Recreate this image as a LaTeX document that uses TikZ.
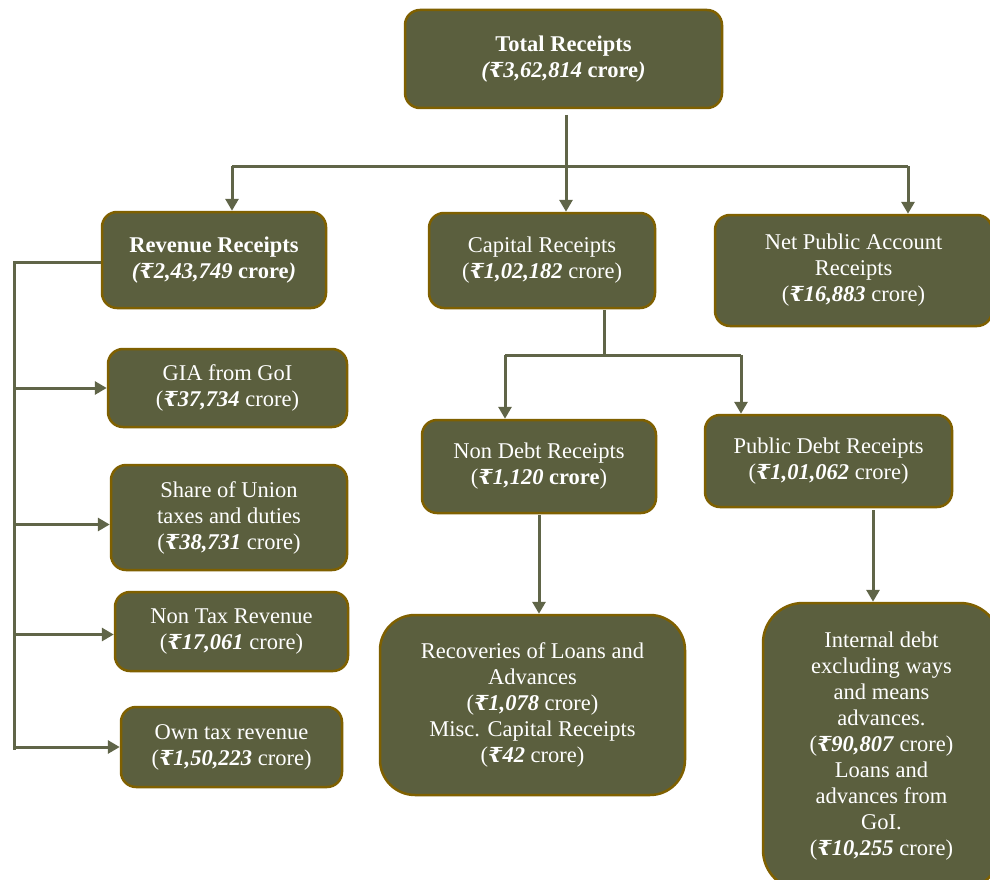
\documentclass[tikz,border=0pt]{standalone}
\usepackage{fontspec}
\setmainfont{Liberation Serif}
\newfontfamily\rupeefont[Scale=0.92]{DejaVu Serif}
\usepackage{tikz}
\usetikzlibrary{arrows.meta}
\definecolor{boxolive}{RGB}{91,95,62}
\definecolor{boxgold}{RGB}{127,96,0}
\definecolor{lineolive}{RGB}{96,101,72}
\tikzset{
    recbox/.style={shape=rectangle, rounded corners=15pt, draw=boxgold, fill=boxolive, line width=2.5pt,
        text=white, align=center, font=\fontsize{22.5}{26}\selectfont, inner sep=0pt},
    flow/.style={draw=lineolive, line width=3pt},
    flowarrow/.style={flow, -{Triangle[width=13pt,length=12pt]}}}
\newcommand{\rupee}{{\rupeefont ₹}}
\newcommand{\amt}[1]{\textbf{\textit{\rupee#1}}}

\begin{document}
\begin{tikzpicture}[x=1pt, y=-1pt]

    \fill[white] (0,0) rectangle (990,880);
    \useasboundingbox (0,0) rectangle (990,880);

    \node[recbox, minimum width=317pt, minimum height=98pt] (total) at (563.5,59) {\textbf{Total Receipts}\\\textbf{\textit{(\rupee3,62,814} crore\textit{)}}};
    \node[recbox, minimum width=224pt, minimum height=96pt] (revenue) at (214,260) {\textbf{Revenue Receipts}\\\textbf{\textit{(\rupee2,43,749} crore\textit{)}}};
    \node[recbox, minimum width=226pt, minimum height=95pt] (capital) at (542,260.5) {Capital Receipts\\(\amt{1,02,182} crore)};
    \node[recbox, minimum width=277pt, minimum height=111pt] (netpublic) at (853.5,270.5) {Net Public Account\\Receipts\\(\amt{16,883} crore)};

    \node[recbox, minimum width=239pt, minimum height=78pt] (gia) at (227.5,388) {GIA from GoI\\(\amt{37,734} crore)};
    \node[recbox, minimum width=236pt, minimum height=105pt] (share) at (229,517.5) {Share of Union\\taxes and duties\\(\amt{38,731} crore)};
    \node[recbox, minimum width=233pt, minimum height=79pt] (nontax) at (231.5,631.5) {Non Tax Revenue\\(\amt{17,061} crore)};
    \node[recbox, minimum width=221pt, minimum height=80pt] (owntax) at (231.5,747) {Own tax revenue\\(\amt{1,50,223} crore)};

    \node[recbox, minimum width=234pt, minimum height=93pt] (nondebt) at (539,466.5) {Non Debt Receipts\\(\amt{1,120} \textbf{crore})};
    \node[recbox, minimum width=247pt, minimum height=92pt] (publicdebt) at (828.5,461) {Public Debt Receipts\\(\amt{1,01,062} crore)};
    \node[recbox, rounded corners=35pt, minimum width=305pt, minimum height=180pt] (recoveries) at (532.5,705) {Recoveries of Loans and\\Advances\\(\amt{1,078} crore)\\Misc. Capital Receipts\\(\amt{42} crore)};
    \node[recbox, rounded corners=40pt, minimum width=237pt, minimum height=287pt] (internal) at (881.5,746.5) {Internal debt\\excluding ways\\and means\\advances.\\(\amt{90,807} crore)\\Loans and\\advances from\\GoI.\\(\amt{10,255} crore)};

    \coordinate (totalfoot) at (566,115);
    \coordinate (splitleft) at (232,166);
    \coordinate (splitright) at (908,166);
    \draw[flow] (splitleft) -- (splitright);
    \draw[flowarrow] (totalfoot) -- (totalfoot |- capital.north);
    \draw[flowarrow] (splitleft) -- (splitleft |- revenue.north);
    \draw[flowarrow] (splitright) -- (splitright |- netpublic.north);

    \coordinate (spine) at (14,262);
    \coordinate (spinefoot) at (14,750);
    \draw[flow] (revenue.west |- spine) -- (spine) -- (spinefoot);
    \draw[flowarrow] (spine |- gia.west) -- (gia.west);
    \draw[flowarrow] ([yshift=-7pt]spine |- share.west) -- ([yshift=-7pt]share.west);
    \draw[flowarrow] ([yshift=-3pt]spine |- nontax.west) -- ([yshift=-3pt]nontax.west);
    \draw[flowarrow] (spine |- owntax.west) -- (owntax.west);

    \coordinate (capfoot) at (604,310);
    \coordinate (capleft) at (505,355);
    \coordinate (capright) at (741,355);
    \draw[flow] (capfoot) -- (capfoot |- capleft);
    \draw[flow] (capleft) -- (capright);
    \draw[flowarrow] (capleft) -- (capleft |- nondebt.north);
    \draw[flowarrow] (capright) -- (capright |- publicdebt.north);

    \coordinate (ndfoot) at (539,515);
    \draw[flowarrow] (ndfoot) -- (ndfoot |- recoveries.north);
    \coordinate (pdfoot) at (873,510);
    \draw[flowarrow] (pdfoot) -- (pdfoot |- internal.north);

\end{tikzpicture}
\end{document}
